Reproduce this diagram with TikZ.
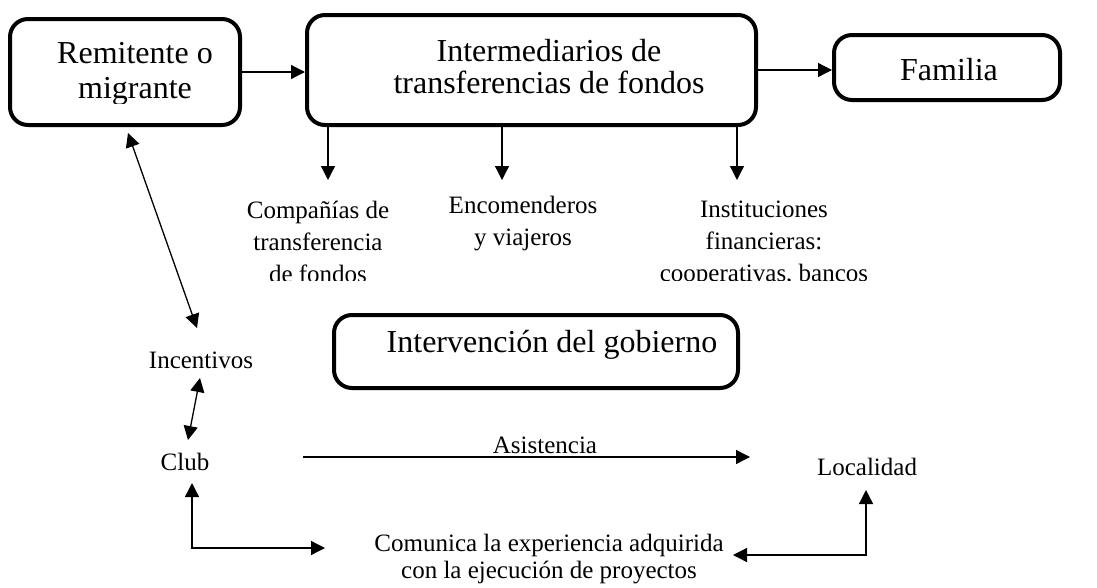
\documentclass[tikz,border=0pt]{standalone}
\usepackage{fontspec}
\setmainfont{Liberation Serif}
\usetikzlibrary{arrows.meta}
\begin{document}
\begin{tikzpicture}[x=1pt,y=-1pt,
  box/.style={draw, line width=4pt, rounded corners=18pt, inner sep=0pt},
  big/.style={font=\fontsize{32}{35}\selectfont, inner sep=0pt, align=center},
  small/.style={font=\fontsize{25}{32}\selectfont, inner sep=0pt, align=center},
  arr/.style={line width=1.3pt, -{Triangle[length=14pt,width=14pt]}},
  darr/.style={line width=1.3pt, {Triangle[length=14pt,width=14pt]}-{Triangle[length=14pt,width=14pt]}}]
\useasboundingbox (0,0) rectangle (1097,587);
% boxes
\node[box, minimum width=230pt, minimum height=106pt] (rem) at (125,72) {};
\node[box, minimum width=449pt, minimum height=110pt] (inter) at (531.5,70) {};
\node[box, minimum width=226pt, minimum height=65pt] (fam) at (947,67.5) {};
\node[box, minimum width=404pt, minimum height=73pt] (interv) at (536,351.5) {};
% box texts
\begin{scope}
\clip (0,0) rectangle (1097,103);
\node[big, anchor=base] (remt) at (135,98) {Remitente o\\migrante};
\end{scope}
\node[big, anchor=base, font=\fontsize{32}{31.5}\selectfont] (intert) at (549,93) {Intermediarios de\\transferencias de fondos};
\node[big, anchor=base] (famt) at (949,80) {Familia};
\node[big, anchor=base] (intervt) at (552,352) {Intervención del gobierno};
% labels
\begin{scope}
\clip (0,0) rectangle (1097,280);
\node[small, anchor=base] (comp) at (318,282) {Compañías de\\transferencia\\de fondos};
\node[small, anchor=base] (inst) at (764,281) {Instituciones\\financieras:\\cooperativas, bancos};
\end{scope}
\node[small, anchor=base] (enc) at (523,245) {Encomenderos\\y viajeros};
\node[small, anchor=base] (inc) at (201,368) {Incentivos};
\node[small, anchor=base] (club) at (185,470) {Club};
\node[small, anchor=base] (loc) at (867,475) {Localidad};
\node[small, anchor=base] (asis) at (545,453) {Asistencia};
\node[small, anchor=base, font=\fontsize{25}{27}\selectfont] (com) at (549,578) {Comunica la experiencia adquirida\\con la ejecución de proyectos};
% coordinates
\coordinate (a1) at (328,180);
\coordinate (a2) at (502,180);
\coordinate (a3) at (737,180);
\coordinate (r1) at (128,133);
\coordinate (i1) at (197,328);
\coordinate (i2) at (200,378);
\coordinate (c1) at (188,440);
\coordinate (as1) at (303,457);
\coordinate (as2) at (750,457);
\coordinate (c2) at (192,483);
\coordinate (m1) at (325,548);
\coordinate (m2) at (733,555);
\coordinate (l1) at (866,490);
% connectors
\draw[arr] (rem.east) -- (rem.east -| inter.west);
\draw[arr] (inter.east) -- (inter.east -| fam.west);
\draw[arr] (inter.south -| a1) -- (a1);
\draw[arr] (inter.south -| a2) -- (a2);
\draw[arr] (inter.south -| a3) -- (a3);
\draw[darr] (r1) -- (i1);
\draw[darr] (i2) -- (c1);
\draw[arr] (as1) -- (as2);
\draw[darr] (c2) |- (m1);
\draw[darr] (m2) -| (l1);
\end{tikzpicture}
\end{document}
